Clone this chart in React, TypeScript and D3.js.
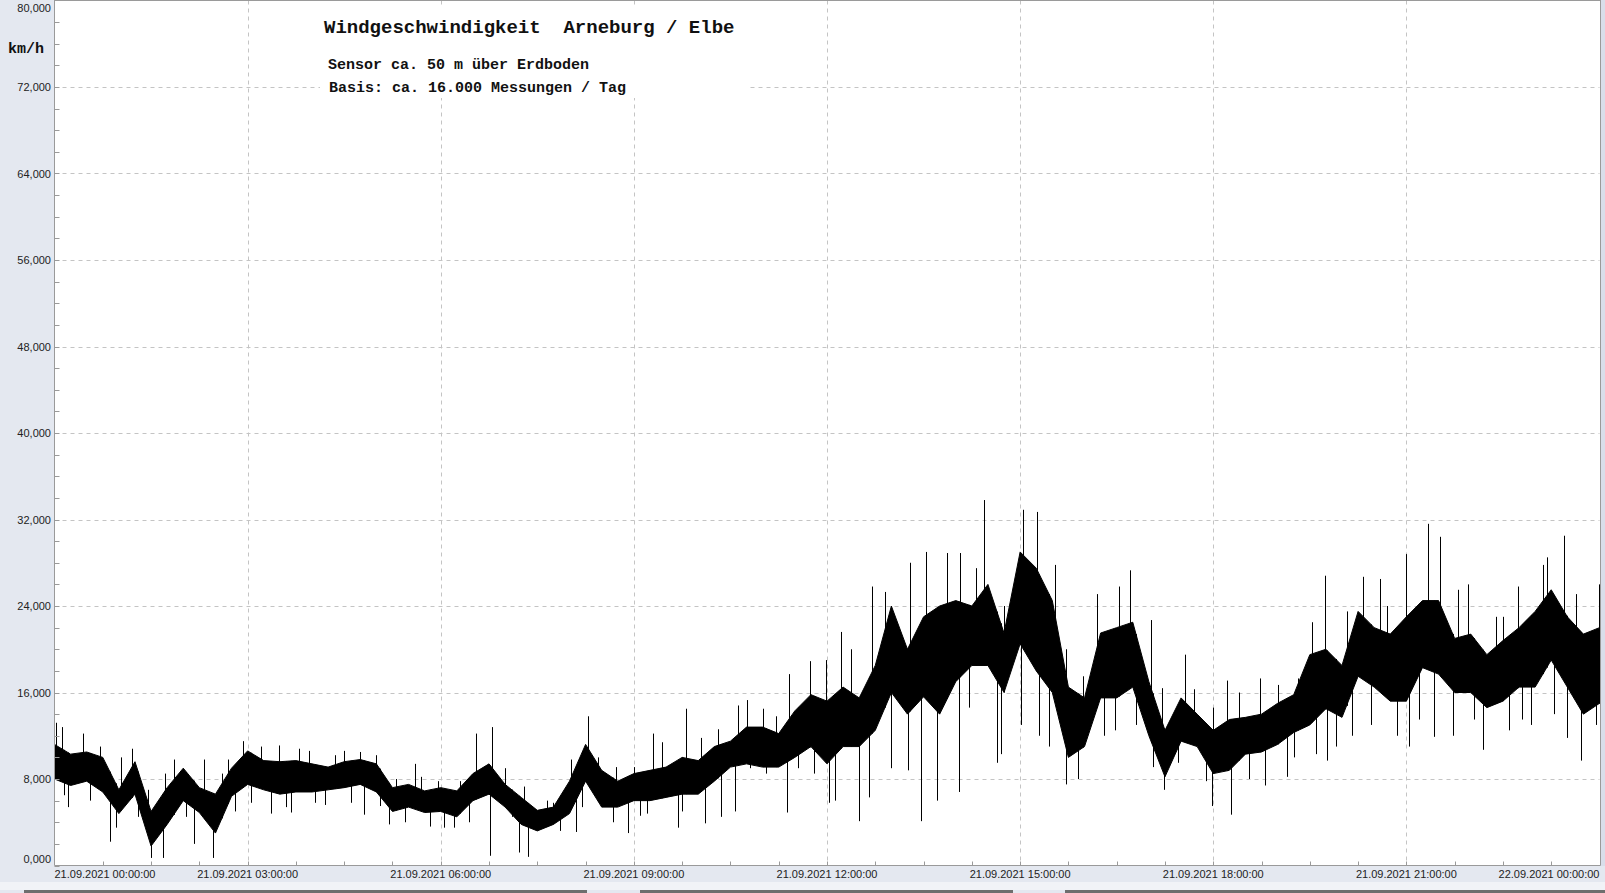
import * as d3 from "d3";

// time bins in hours (every 15 min, 21.09.2021 00:00 → 22.09.2021 00:00)
const binHours = d3.range(0, 24.001, 0.25);

// dense band of the measurements, km/h
const coreLo = [
  8.0, 7.4, 7.8, 6.8, 4.8, 6.6, 1.8, 3.8, 6.0, 4.9, 3.0, 6.4, 7.5, 7.0, 6.6, 6.8,
  6.8, 7.0, 7.2, 7.5, 6.8, 5.0, 5.4, 4.9, 5.0, 4.5, 6.0, 6.6, 5.4, 3.8, 3.2, 3.8,
  4.8, 7.8, 5.4, 5.4, 6.0, 6.0, 6.3, 6.6, 6.6, 7.8, 9.1, 9.4, 9.1, 9.1, 10.0, 11.0,
  9.4, 11.0, 11.0, 12.5, 16.0, 14.0, 15.6, 14.0, 17.0, 18.5, 18.5, 16.0, 20.5, 18.0, 16.0, 10.0,
  11.0, 15.5, 15.5, 16.5, 12.0, 8.2, 11.5, 11.0, 8.5, 8.8, 10.3, 10.5, 11.2, 12.3, 13.0, 14.5,
  13.7, 17.5, 16.5, 15.2, 15.2, 18.3, 17.7, 16.0, 16.0, 14.6, 15.2, 16.5, 16.5, 19.0, 16.5, 14.0,
  15.0,
];
const coreHi = [
  11.2, 10.3, 10.5, 10.0, 7.0, 9.6, 5.0, 7.2, 9.0, 7.2, 6.6, 9.0, 10.6, 9.7, 9.6, 9.7,
  9.4, 9.1, 9.6, 9.8, 9.4, 7.2, 7.5, 6.9, 7.2, 6.9, 8.5, 9.4, 7.5, 6.3, 5.1, 5.4,
  7.8, 11.2, 8.8, 7.8, 8.5, 8.8, 9.1, 10.0, 9.7, 11.0, 11.5, 12.8, 12.8, 12.2, 14.3, 15.8,
  15.2, 16.5, 15.5, 18.5, 24.0, 20.0, 23.0, 24.0, 24.5, 24.0, 26.0, 21.5, 29.0, 27.5, 24.5, 16.5,
  15.5, 21.5, 22.0, 22.5, 17.0, 12.5, 15.5, 14.0, 12.5, 13.5, 13.7, 14.0, 15.0, 15.8, 19.5, 20.0,
  18.5, 23.5, 22.0, 21.4, 23.0, 24.5, 24.5, 21.0, 21.4, 19.5, 20.8, 22.0, 23.5, 25.5, 23.0, 21.4,
  22.0,
];

// highest single reading in each bin and when it happened
const peakHi = [
  13.2, 12.8, 12.2, 11.0, 10.0, 10.8, 7.0, 8.5, 9.8, 9.8, 8.5, 9.8, 11.5, 11.0, 11.1, 10.8,
  10.6, 10.2, 10.6, 10.5, 10.2, 8.0, 9.4, 8.2, 7.8, 7.8, 12.2, 12.8, 9.0, 7.3, 6.0, 5.8,
  9.8, 13.8, 10.0, 9.1, 9.1, 12.2, 11.4, 14.5, 11.8, 12.6, 14.8, 15.3, 14.5, 13.8, 17.7, 18.9,
  19.0, 21.6, 20.0, 25.8, 25.3, 28.0, 29.0, 28.9, 28.9, 27.5, 33.8, 24.0, 32.9, 32.7, 27.8, 20.0,
  17.5, 25.1, 25.8, 27.3, 22.7, 16.4, 19.5, 16.3, 14.6, 17.1, 16.0, 17.3, 16.7, 17.3, 22.5, 26.8,
  23.5, 26.7, 26.5, 24.0, 28.8, 31.6, 30.4, 25.5, 26.0, 23.0, 23.0, 25.8, 28.5, 27.8, 30.5, 25.1,
  26.0,
];
const peakHiT = [
  0.03, 0.11, 0.45, 0.7, 1.04, 1.2, 1.45, 1.72, 1.85, 2.33, 2.6, 2.7, 2.93, 3.2, 3.49, 3.8,
  3.95, 4.36, 4.5, 4.75, 5.0, 5.3, 5.6, 5.7, 5.95, 6.3, 6.55, 6.8, 7.0, 7.3, 7.65, 7.75,
  8.03, 8.29, 8.45, 8.72, 9.0, 9.3, 9.44, 9.81, 10.04, 10.3, 10.62, 10.76, 11.0, 11.2, 11.41, 11.73,
  11.98, 12.22, 12.38, 12.7, 12.9, 13.29, 13.54, 13.87, 14.07, 14.32, 14.44, 14.75, 15.04, 15.26, 15.54, 15.72,
  15.98, 16.2, 16.53, 16.71, 17.04, 17.2, 17.56, 17.7, 18.0, 18.21, 18.4, 18.72, 19.0, 19.32, 19.54, 19.74,
  20.07, 20.32, 20.59, 20.7, 21.0, 21.33, 21.53, 21.8, 21.95, 22.39, 22.5, 22.73, 23.18, 23.12, 23.45, 23.64,
  23.99,
];
// lowest single reading in each bin and when it happened
const peakLo = [
  6.5, 5.4, 6.0, 2.2, 3.5, 4.5, 0.7, 0.7, 4.5, 2.0, 0.7, 5.0, 5.8, 4.8, 5.4, 4.9,
  5.8, 5.6, 5.8, 4.7, 5.5, 3.8, 4.0, 3.6, 3.5, 3.5, 4.0, 0.9, 4.5, 1.2, 0.8, 3.2,
  3.1, 5.4, 4.0, 3.0, 4.6, 4.8, 3.5, 5.0, 3.9, 4.5, 5.0, 9.0, 8.5, 4.9, 9.0, 8.5,
  5.8, 6.0, 4.1, 6.3, 9.0, 8.8, 4.1, 6.0, 6.8, 14.6, 9.5, 10.3, 13.0, 12.0, 11.0, 7.5,
  8.0, 12.0, 12.5, 13.0, 9.1, 7.0, 9.5, 7.8, 5.5, 4.7, 8.0, 7.4, 8.2, 10.0, 10.3, 9.7,
  11.0, 12.0, 13.0, 12.0, 11.0, 13.5, 11.9, 12.0, 13.5, 10.7, 12.5, 13.5, 13.0, 14.0, 11.8, 9.7,
  13.0,
];
const peakLoT = [
  0.14, 0.21, 0.55, 0.86, 0.95, 1.3, 1.5, 1.69, 2.05, 2.16, 2.46, 2.8, 3.05, 3.37, 3.6, 3.68,
  4.05, 4.2, 4.6, 4.8, 5.05, 5.2, 5.45, 5.83, 6.05, 6.2, 6.44, 6.77, 7.1, 7.22, 7.36, 7.85,
  8.1, 8.2, 8.67, 8.91, 9.1, 9.2, 9.69, 9.75, 10.1, 10.36, 10.57, 10.8, 11.05, 11.38, 11.55, 11.8,
  12.03, 12.12, 12.5, 12.66, 13.0, 13.26, 13.46, 13.71, 14.05, 14.2, 14.64, 14.7, 15.02, 15.3, 15.45, 15.71,
  15.9, 16.3, 16.48, 16.8, 17.06, 17.24, 17.45, 17.89, 17.98, 18.27, 18.55, 18.81, 19.15, 19.25, 19.59, 19.77,
  19.9, 20.15, 20.45, 20.85, 21.04, 21.2, 21.43, 21.72, 22.05, 22.19, 22.6, 22.8, 22.94, 23.3, 23.49, 23.72,
  23.95,
];

const yTicks = [0, 8, 16, 24, 32, 40, 48, 56, 64, 72, 80];
const yMinor = d3.range(0, 80, 2);
const xGridHours = [3, 6, 9, 12, 15, 18, 21];
const xMinorHours = d3.range(0.75, 24, 0.75);
const xTickHours = [0, 3, 6, 9, 12, 15, 18, 21, 24];
const xTickLabels = [
  "21.09.2021  00:00:00",
  "21.09.2021  03:00:00",
  "21.09.2021  06:00:00",
  "21.09.2021  09:00:00",
  "21.09.2021  12:00:00",
  "21.09.2021  15:00:00",
  "21.09.2021  18:00:00",
  "21.09.2021  21:00:00",
  "22.09.2021  00:00:00",
];

const W = 1605;
const H = 893;
const PLOT = { left: 54.5, right: 1599.5, top: 0.5, bottom: 865.5 };
const PANEL = "#e4e8f0";
const AXIS = "#9a9a9a";
const GRID = "#c4c4c4";

const fmt = (v: number) => d3.format(".3f")(v).replace(".", ",");
const crisp = (v: number) => Math.round(v) + 0.5;

export default function App() {
  const x = d3.scaleLinear().domain([0, 24]).range([PLOT.left, PLOT.right]).clamp(true);
  const y = d3.scaleLinear().domain([0, 80]).range([PLOT.bottom, PLOT.top]);

  const band = d3
    .area<number>()
    .x((h) => x(h))
    .y0((_, i) => y(coreLo[i]))
    .y1((_, i) => y(coreHi[i]))(binHours);

  // band edges at any time, for anchoring the single spikes
  const loAt = d3.scaleLinear().domain(binHours).range(coreLo);
  const hiAt = d3.scaleLinear().domain(binHours).range(coreHi);

  let wicks = "";
  peakHi.forEach((v, i) => {
    const t = peakHiT[i];
    wicks += `M${crisp(x(t))},${y(loAt(t))}V${y(v)}`;
  });
  peakLo.forEach((v, i) => {
    const t = peakLoT[i];
    wicks += `M${crisp(x(t))},${y(hiAt(t))}V${y(v)}`;
  });

  const mono = "'Liberation Mono', 'Courier New', monospace";
  const sans = "'Liberation Sans', Arial, sans-serif";

  return (
    <div style={{ position: "absolute", left: 0, top: 0 }}>
      <svg width={W} height={H} style={{ display: "block" }}>
        <rect x={0} y={0} width={W} height={H} fill={PANEL} />
        <rect x={0} y={882} width={W} height={8} fill="#f1f3f7" />
        <rect x={24} y={890} width={563} height={3} fill="#6e6e6e" />
        <rect x={640} y={890} width={373} height={3} fill="#6e6e6e" />
        <rect x={1065} y={890} width={540} height={3} fill="#6e6e6e" />
        <rect x={1601} y={0} width={4} height={866} fill="#d9deea" />

        <rect
          x={PLOT.left}
          y={PLOT.top}
          width={PLOT.right - PLOT.left + 0.5}
          height={PLOT.bottom - PLOT.top}
          fill="#fff"
        />

        {/* grid */}
        <g stroke={GRID} strokeWidth={1} strokeDasharray="4,4">
          {yTicks.slice(1, -1).map((v) => (
            <line key={v} x1={PLOT.left} x2={PLOT.right} y1={crisp(y(v))} y2={crisp(y(v))} />
          ))}
          {xGridHours.map((h) => (
            <line key={h} x1={crisp(x(h))} x2={crisp(x(h))} y1={PLOT.top} y2={PLOT.bottom} />
          ))}
        </g>

        {/* title box */}
        <rect x={320} y={6} width={427} height={92} fill="#fff" />
        <text x={324} y={33} fontFamily={mono} fontWeight="bold" fontSize={19} fill="#111" style={{ whiteSpace: "pre" }}>
          Windgeschwindigkeit  Arneburg / Elbe
        </text>
        <text x={328} y={69} fontFamily={mono} fontWeight="bold" fontSize={15} fill="#111" style={{ whiteSpace: "pre" }}>
          Sensor ca. 50 m über Erdboden
        </text>
        <text x={329} y={92} fontFamily={mono} fontWeight="bold" fontSize={15} fill="#111" style={{ whiteSpace: "pre" }}>
          Basis: ca. 16.000 Messungen / Tag
        </text>

        {/* data */}
        <path d={band ?? ""} fill="#000" stroke="#000" strokeWidth={1} />
        <path d={wicks} stroke="#000" strokeWidth={1} fill="none" />

        {/* axes */}
        <g stroke={AXIS} strokeWidth={1}>
          <line x1={PLOT.left} x2={PLOT.left} y1={0} y2={PLOT.bottom} />
          <line x1={PLOT.left} x2={1600.5} y1={PLOT.bottom} y2={PLOT.bottom} />
          <line x1={PLOT.left} x2={1600.5} y1={PLOT.top} y2={PLOT.top} />
          <line x1={1600.5} x2={1600.5} y1={0} y2={PLOT.bottom} />
          {yMinor.map((v) => (
            <line key={v} x1={PLOT.left} x2={PLOT.left + 5} y1={crisp(y(v))} y2={crisp(y(v))} />
          ))}
          {xMinorHours.map((h) => (
            <line key={h} x1={crisp(x(h))} x2={crisp(x(h))} y1={PLOT.bottom} y2={PLOT.bottom - 4} />
          ))}
        </g>

        {/* y labels */}
        <g fontFamily={sans} fontSize={11} fill="#222" textAnchor="end">
          {yTicks.map((v) => (
            <text key={v} x={51} y={Math.min(863, Math.max(12, y(v) + 4))}>
              {fmt(v)}
            </text>
          ))}
        </g>
        <text x={8} y={53} fontFamily={mono} fontWeight="bold" fontSize={15} fill="#111">
          km/h
        </text>

        {/* x labels */}
        <g fontFamily={sans} fontSize={11} fill="#222" style={{ whiteSpace: "pre" }}>
          {xTickHours.map((h, i) => (
            <text
              key={h}
              x={i === 0 ? PLOT.left : i === xTickHours.length - 1 ? PLOT.right : x(h)}
              y={878}
              textAnchor={i === 0 ? "start" : i === xTickHours.length - 1 ? "end" : "middle"}
            >
              {xTickLabels[i]}
            </text>
          ))}
        </g>
      </svg>
    </div>
  );
}
